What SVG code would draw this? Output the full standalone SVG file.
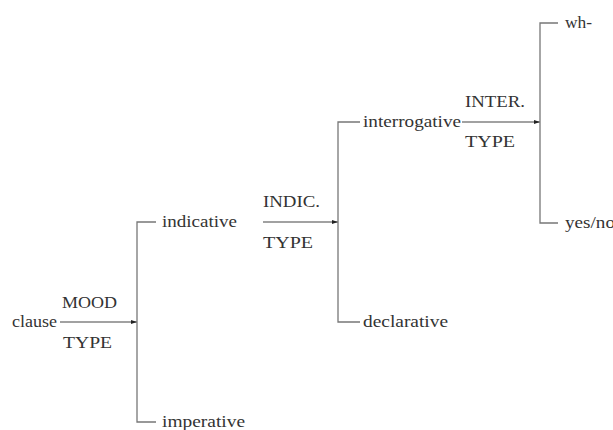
<svg xmlns="http://www.w3.org/2000/svg" width="613" height="430" viewBox="0 0 613 430">
<style>
text{font-family:"Liberation Serif","Times New Roman",serif;font-size:16px;fill:#333;}
.ln{stroke:#777;stroke-width:1.3;fill:none;}
.ar{stroke:#444;stroke-width:1.1;fill:none;}
</style>
<defs>
<marker id="ah" viewBox="0 0 10 10" refX="10" refY="5" markerWidth="6" markerHeight="6" markerUnits="userSpaceOnUse" orient="auto">
<path d="M0,1.5 L10,5 L0,8.5 Z" fill="#222"/>
</marker>
</defs>
<rect width="613" height="430" fill="#fff"/>
<g id="connectors">
<line class="ar" x1="60" y1="322" x2="137" y2="322" marker-end="url(#ah)"/>
<polyline class="ln" points="156,222 137,222 137,422 156,422"/>
<line class="ar" x1="263" y1="222" x2="338" y2="222" marker-end="url(#ah)"/>
<polyline class="ln" points="360,122 338,122 338,322 360,322"/>
<line class="ar" x1="462" y1="122" x2="540" y2="122" marker-end="url(#ah)"/>
<polyline class="ln" points="558,23 540,23 540,223 558,223"/>
</g>
<g id="clause"><text x="12" y="327" textLength="45" lengthAdjust="spacingAndGlyphs">clause</text></g>
<g id="mood-type"><text x="62" y="308" textLength="55" lengthAdjust="spacingAndGlyphs">MOOD</text><text x="63" y="348" textLength="49" lengthAdjust="spacingAndGlyphs">TYPE</text></g>
<g id="indicative"><text x="162" y="227" textLength="75" lengthAdjust="spacingAndGlyphs">indicative</text></g>
<g id="imperative"><text x="162" y="427" textLength="83" lengthAdjust="spacingAndGlyphs">imperative</text></g>
<g id="indic-type"><text x="263" y="207" textLength="57" lengthAdjust="spacingAndGlyphs">INDIC.</text><text x="263" y="248" textLength="50" lengthAdjust="spacingAndGlyphs">TYPE</text></g>
<g id="interrogative"><text x="363" y="127" textLength="98" lengthAdjust="spacingAndGlyphs">interrogative</text></g>
<g id="declarative"><text x="363" y="327" textLength="85" lengthAdjust="spacingAndGlyphs">declarative</text></g>
<g id="inter-type"><text x="465" y="107" textLength="60" lengthAdjust="spacingAndGlyphs">INTER.</text><text x="465" y="147" textLength="50" lengthAdjust="spacingAndGlyphs">TYPE</text></g>
<g id="wh"><text x="565" y="28" textLength="27" lengthAdjust="spacingAndGlyphs">wh-</text></g>
<g id="yesno"><text x="565" y="228" textLength="50" lengthAdjust="spacingAndGlyphs">yes/no</text></g>
</svg>
